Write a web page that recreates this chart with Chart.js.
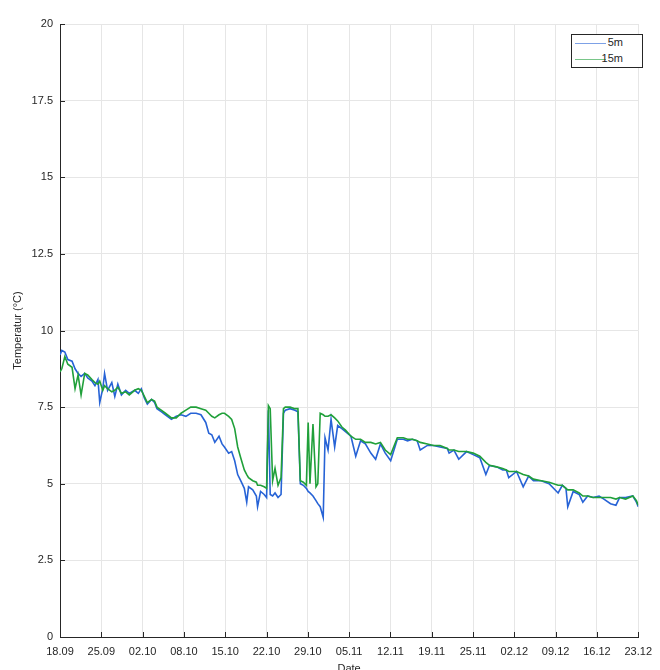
<!DOCTYPE html>
<html>
<head>
<meta charset="utf-8">
<title>Temperatur 5m / 15m</title>
<script src="https://cdn.jsdelivr.net/npm/chart.js@4.4.1/dist/chart.umd.min.js"></script>
<style>
    html, body { margin: 0; padding: 0; background: #fff; overflow: hidden; }
    #wrap { position: relative; width: 660px; height: 680px; }
    #legend {
        position: absolute; left: 571px; top: 34px; width: 70px; height: 32px;
        border: 1px solid #262626; background: #fff;
        font: 11px "Liberation Sans", Arial, sans-serif; color: #262626;
    }
    #legend .row { position: relative; height: 16px; }
    #legend .line { position: absolute; left: 3px; top: 8px; width: 31px; height: 1px; opacity: 0.6; }
    #legend .label { position: absolute; right: 19px; top: 1px; }
</style>
</head>
<body>
<div id="wrap">
    <canvas id="chart" width="660" height="680"></canvas>
    <div id="legend"></div>
</div>
<script>
// ================================
// Data (days since 18.09)
// ================================
const seriesNames = ["5m", "15m"];
const seriesColors = ["#2763d6", "#20a03a"];
const xTickLabels = ["18.09", "25.09", "02.10", "08.10", "15.10", "22.10", "29.10", "05.11",
    "12.11", "19.11", "25.11", "02.12", "09.12", "16.12", "23.12"];
const totalDays = 96;

const days = [
    0.0, 0.3, 0.8, 1.3, 2.0, 2.5, 3.0, 3.5, 4.1, 4.6, 5.3, 5.8, 6.3, 6.6, 7.1, 7.4, 7.9, 8.6, 9.1, 9.6,
    10.2, 10.9, 11.5, 12.4, 13.0, 13.5, 14.0, 14.5, 15.2, 15.7, 16.1, 16.8, 17.5, 18.5, 19.3, 20.1, 20.9,
    21.7, 22.6, 23.4, 24.2, 24.7, 25.2, 25.7, 26.4, 26.9, 27.3, 28.0, 28.5, 29.0, 29.5, 30.0, 30.6, 31.0,
    31.3, 32.0, 32.6, 32.8, 33.3, 33.9, 34.3, 34.6, 34.9, 35.3, 35.7, 36.2, 36.7, 37.1, 37.4, 38.2, 39.0,
    39.5, 39.9, 40.4, 40.9, 41.2, 41.5, 42.0, 42.5, 42.8, 43.2, 43.7, 44.0, 44.5, 45.0, 45.6, 46.1, 46.8,
    47.4, 48.3, 49.1, 49.9, 50.7, 51.6, 52.4, 53.2, 54.0, 54.9, 56.0, 57.0, 57.7, 58.5, 59.3, 59.8, 61.0,
    62.0, 63.1, 64.3, 64.6, 65.4, 66.2, 67.5, 68.6, 69.7, 70.7, 71.3, 72.5, 73.5, 74.1, 74.5, 75.8, 76.9,
    77.8, 78.6, 79.9, 81.2, 82.7, 83.4, 84.0, 84.3, 85.2, 86.2, 86.8, 87.6, 88.5, 89.5, 90.3, 91.4, 92.3,
    92.9, 93.9, 95.1, 95.7, 96.0
];

const temp5m = [
    9.20, 9.35, 9.30, 9.05, 9.00, 8.75, 8.60, 8.50, 8.60, 8.45, 8.35, 8.20, 8.40, 7.65, 8.10, 8.60, 8.05, 8.30, 7.85, 8.25,
    7.90, 8.05, 7.95, 8.05, 7.95, 8.10, 7.80, 7.60, 7.75, 7.65, 7.45, 7.35, 7.25, 7.10, 7.20, 7.25, 7.20,
    7.30, 7.30, 7.25, 7.00, 6.65, 6.60, 6.35, 6.55, 6.30, 6.20, 6.00, 6.05, 5.75, 5.30, 5.10, 4.85, 4.40,
    4.90, 4.80, 4.60, 4.25, 4.75, 4.65, 4.55, 7.40, 4.65, 4.60, 4.70, 4.55, 4.65, 7.30, 7.40, 7.45, 7.40,
    7.35, 5.00, 4.95, 4.85, 4.75, 4.70, 4.60, 4.45, 4.35, 4.25, 3.90, 6.50, 6.10, 7.10, 6.20, 6.90, 6.80,
    6.70, 6.55, 5.90, 6.40, 6.30, 6.00, 5.80, 6.30, 6.00, 5.75, 6.45, 6.45, 6.40, 6.45, 6.40, 6.10, 6.25,
    6.25, 6.20, 6.15, 6.00, 6.10, 5.80, 6.05, 5.95, 5.85, 5.30, 5.60, 5.55, 5.45, 5.45, 5.20, 5.40, 4.90,
    5.25, 5.10, 5.10, 5.00, 4.70, 4.95, 4.85, 4.25, 4.75, 4.65, 4.40, 4.60, 4.55, 4.60, 4.50, 4.35, 4.30,
    4.55, 4.55, 4.60, 4.40, 4.25
];

const temp15m = [
    8.65, 8.75, 9.15, 8.90, 8.80, 8.10, 8.55, 7.90, 8.60, 8.55, 8.40, 8.30, 8.25, 8.35, 8.05, 8.20, 8.10, 8.00, 8.05, 8.15,
    7.95, 8.00, 7.90, 8.05, 8.10, 8.05, 7.85, 7.65, 7.75, 7.70, 7.50, 7.40, 7.30, 7.15, 7.15, 7.30, 7.40,
    7.50, 7.50, 7.45, 7.40, 7.30, 7.20, 7.15, 7.25, 7.30, 7.30, 7.20, 7.10, 6.80, 6.20, 5.85, 5.45, 5.30,
    5.20, 5.10, 5.05, 4.95, 4.95, 4.90, 4.85, 7.55, 7.45, 5.10, 5.50, 4.95, 5.20, 7.45, 7.50, 7.50, 7.45,
    7.45, 5.10, 5.05, 4.95, 7.00, 5.00, 6.95, 4.90, 5.00, 7.30, 7.25, 7.20, 7.20, 7.25, 7.15, 7.05, 6.85,
    6.75, 6.55, 6.45, 6.45, 6.35, 6.35, 6.30, 6.35, 6.10, 5.95, 6.50, 6.50, 6.45, 6.45, 6.40, 6.35, 6.30,
    6.25, 6.25, 6.15, 6.10, 6.10, 6.05, 6.05, 6.00, 5.90, 5.70, 5.60, 5.55, 5.50, 5.45, 5.40, 5.40, 5.30,
    5.25, 5.15, 5.10, 5.05, 4.95, 4.95, 4.85, 4.80, 4.80, 4.70, 4.60, 4.60, 4.55, 4.55, 4.55, 4.55, 4.50,
    4.55, 4.50, 4.60, 4.45, 4.30
];

// ================================
// Inward tick marks (matlab style)
// ================================
const innerTicks = {
    id: "innerTicks",
    afterDatasetsDraw(chart) {
        const { ctx, chartArea: a, scales: { x, y } } = chart;
        ctx.save();
        ctx.strokeStyle = "#262626";
        ctx.lineWidth = 1;
        ctx.beginPath();
        x.ticks.forEach(t => {
            const px = Math.round(x.getPixelForValue(t.value)) + 0.5;
            ctx.moveTo(px, a.bottom);
            ctx.lineTo(px, a.bottom - 5);
        });
        y.ticks.forEach(t => {
            const py = Math.round(y.getPixelForValue(t.value)) + 0.5;
            ctx.moveTo(a.left, py);
            ctx.lineTo(a.left + 5, py);
        });
        ctx.stroke();
        ctx.restore();
    }
};

// ================================
// Chart
// ================================
function toPoints(values) {
    return values.map((v, i) => ({ x: days[i], y: v }));
}

function loadChart() {
    const font = { family: "'Liberation Sans', Arial, sans-serif", size: 11 };
    const grid = { color: "#e6e6e6", lineWidth: 1, drawTicks: false };

    new Chart(document.getElementById("chart"), {
        type: "line",
        data: {
            datasets: [
                { label: seriesNames[0], data: toPoints(temp5m), borderColor: seriesColors[0], order: 1 },
                { label: seriesNames[1], data: toPoints(temp15m), borderColor: seriesColors[1], order: 0 }
            ]
        },
        options: {
            responsive: false,
            animation: false,
            devicePixelRatio: 1,
            layout: { padding: { left: 0, right: 17, top: 24, bottom: 0 } },
            elements: {
                point: { radius: 0 },
                line: { borderWidth: 1.6, tension: 0 }
            },
            plugins: { legend: { display: false }, tooltip: { enabled: false } },
            scales: {
                x: {
                    type: "linear",
                    min: 0,
                    max: totalDays,
                    grid: grid,
                    border: { color: "#262626" },
                    afterBuildTicks: scale => {
                        scale.ticks = xTickLabels.map((_, i) => ({ value: i * totalDays / (xTickLabels.length - 1) }));
                    },
                    afterFit: scale => { scale.height = 43; },
                    ticks: {
                        color: "#262626", font: font, padding: 8, maxRotation: 0, autoSkip: false,
                        callback: (val, i) => xTickLabels[i]
                    },
                    title: { display: true, text: "Date", color: "#262626", font: font, padding: { top: 0, bottom: 4 } }
                },
                y: {
                    min: 0,
                    max: 20,
                    grid: grid,
                    border: { color: "#262626" },
                    afterFit: scale => { scale.width = 60; },
                    ticks: { stepSize: 2.5, color: "#262626", font: font, padding: 7 },
                    title: { display: true, text: "Temperatur (°C)", color: "#262626", font: font, padding: { top: 11, bottom: 0 } }
                }
            }
        },
        plugins: [innerTicks]
    });
}

// ================================
// Legend box (top right)
// ================================
function buildLegend() {
    const box = document.getElementById("legend");
    seriesNames.forEach((name, i) => {
        const row = document.createElement("div");
        row.className = "row";
        const line = document.createElement("span");
        line.className = "line";
        line.style.backgroundColor = seriesColors[i];
        const label = document.createElement("span");
        label.className = "label";
        label.textContent = name;
        row.appendChild(line);
        row.appendChild(label);
        box.appendChild(row);
    });
}

loadChart();
buildLegend();
</script>
</body>
</html>
